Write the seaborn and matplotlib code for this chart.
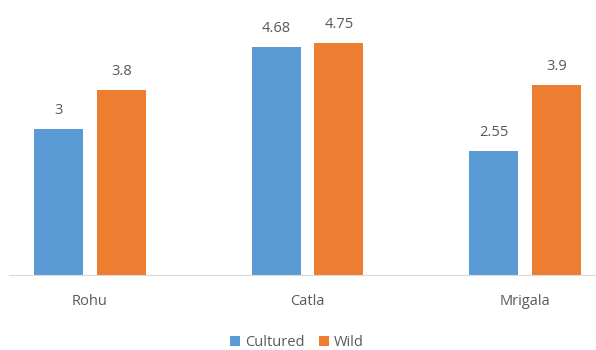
import pandas as pd
import matplotlib.pyplot as plt
import seaborn as sns

species = ["Rohu", "Catla", "Mrigala"]
cultured = [3, 4.68, 2.55]
wild = [3.8, 4.75, 3.9]
value_labels_cultured = ["3", "4.68", "2.55"]
value_labels_wild = ["3.8", "4.75", "3.9"]

df = pd.DataFrame({
    "species": species * 2,
    "value": cultured + wild,
    "type": ["Cultured"] * 3 + ["Wild"] * 3,
})

sns.set_style("white")
plt.rcParams['font.family'] = ['Open Sans', 'DejaVu Sans']

fig = plt.figure(figsize=(5.96, 3.5), dpi=100)
ax = fig.add_axes([9 / 596, 75 / 350, 1 - 9 / 596, 275 / 350])

sns.barplot(data=df, x="species", y="value", hue="type", order=species,
            palette={"Cultured": "#5B9BD5", "Wild": "#ED7D31"},
            saturation=1, linewidth=0, edgecolor="none",
            width=0.575, gap=0.22, ax=ax, legend=True)

for cont, labs in zip(ax.containers, [value_labels_cultured, value_labels_wild]):
    ax.bar_label(cont, labels=labs, padding=8, fontsize=10.5, color="#595959")

ax.set_xlim(-0.372, 2.326)
ax.set_ylim(0, 5.64)
ax.set_yticks([])
ax.set_xlabel("")
ax.set_ylabel("")
for s in ["top", "right", "left"]:
    ax.spines[s].set_visible(False)
ax.spines["bottom"].set_color("#D9D9D9")
ax.tick_params(axis="x", length=0, labelsize=10.5, labelcolor="#595959", pad=14)

ax.legend(loc="center", bbox_to_anchor=(0.49, -0.245), ncol=2, frameon=False,
          fontsize=10.5, labelcolor="#595959", handlelength=0.7, handleheight=0.7,
          handletextpad=0.3, columnspacing=1.0, borderpad=0)

fig.savefig("out.png", dpi=100)
